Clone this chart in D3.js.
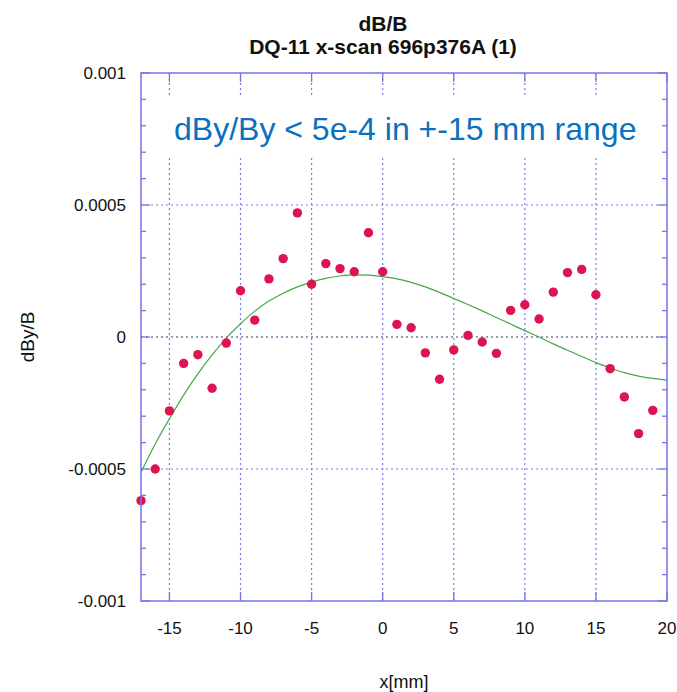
<!DOCTYPE html>
<html>
<head>
<meta charset="utf-8">
<script src="https://cdn.jsdelivr.net/npm/d3@7"></script>
<style>
  html, body { margin: 0; padding: 0; background: #ffffff; }
  svg { display: block; font-family: "Liberation Sans", Arial, sans-serif; }
</style>
</head>
<body>
<svg id="chart" width="677" height="692"></svg>
<script>
// Measured field deviation along the horizontal scan
const scanX = [-17, -16, -15, -14, -13, -12, -11, -10, -9, -8, -7, -6, -5, -4, -3, -2, -1, 0,
               1, 2, 3, 4, 5, 6, 7, 8, 9, 10, 11, 12, 13, 14, 15, 16, 17, 18, 19];
const dByB = [-0.00062, -0.0005, -0.00028, -0.0001, -0.000067, -0.000194, -0.000023, 0.000175,
              0.000064, 0.00022, 0.000297, 0.00047, 0.0002, 0.000278, 0.000259, 0.000247,
              0.000395, 0.000247, 0.000048, 0.000035, -0.00006, -0.00016, -0.000049, 0.000006,
              -0.000019, -0.000062, 0.000101, 0.000122, 0.000068, 0.00017, 0.000244, 0.000256,
              0.00016, -0.00012, -0.000227, -0.000366, -0.000278];

// Fitted trend curve, sampled along x
const fitX = [-17, -16, -15, -14, -13, -12, -11, -10, -9, -8, -7, -6, -5, -4, -3, -2, -1, 0,
              1, 2, 3, 4, 5, 6, 7, 8, 9, 10, 11, 12, 13, 14, 15, 16, 17, 18, 19, 20];
const fitY = [-0.000513, -0.000405, -0.00031, -0.00022, -0.00014, -0.000068, -0.000004, 0.00005,
              0.000098, 0.000136, 0.000166, 0.00019, 0.000208, 0.000222, 0.000231, 0.000235,
              0.000234, 0.000229, 0.00022, 0.000207, 0.00019, 0.000169, 0.000146, 0.000123,
              0.000099, 0.000074, 0.000049, 0.000024, 0.0, -0.000026, -0.00005, -0.000074,
              -0.000097, -0.000117, -0.000135, -0.000148, -0.000157, -0.000163];

const xMajorTicks = [-15, -10, -5, 0, 5, 10, 15, 20];
const xTickLabels = ["-15", "-10", "-5", "0", "5", "10", "15", "20"];
const yMajorTicks = [0.001, 0.0005, 0, -0.0005, -0.001];
const yTickLabels = ["0.001", "0.0005", "0", "-0.0005", "-0.001"];
const yMinorTicks = d3.range(-10, 11).map(k => k * 0.0001);

const titleLines = ["dB/B", "DQ-11 x-scan 696p376A (1)"];
const xTitle = "x[mm]";
const yTitle = "dBy/B";
const note = "dBy/By < 5e-4 in +-15 mm range";

const frameColor = "#7474ea";
const gridColor = "#7a7af0";
const zeroColor = "#34347a";
const dotColor = "#dc1452";
const fitColor = "#46a846";

const svg = d3.select("#chart");
const plotL = 141, plotR = 667, plotT = 73, plotB = 601;

const x = d3.scaleLinear().domain([-17, 20]).range([plotL, plotR]);
const y = d3.scaleLinear().domain([-0.001, 0.001]).range([plotB, plotT]);

// plot area background
svg.append("rect").attr("x", plotL).attr("y", plotT)
  .attr("width", plotR - plotL).attr("height", plotB - plotT).attr("fill", "#ffffff");

// dotted grid
const grid = svg.append("g").attr("stroke", gridColor).attr("stroke-width", 1.2)
  .attr("stroke-dasharray", "2,3").attr("fill", "none");
xMajorTicks.filter(v => v < 20).forEach(v => {
  grid.append("line").attr("x1", x(v)).attr("x2", x(v)).attr("y1", plotT).attr("y2", plotB);
});
yMajorTicks.filter(v => Math.abs(v) < 0.001).forEach(v => {
  grid.append("line").attr("x1", plotL).attr("x2", plotR).attr("y1", y(v)).attr("y2", y(v))
    .attr("stroke", v === 0 ? zeroColor : gridColor);
});

// annotation box hides the grid behind the note
svg.append("rect").attr("x", 153).attr("y", 97).attr("width", 507).attr("height", 60)
  .attr("fill", "#ffffff");
svg.append("text").attr("x", 174).attr("y", 140)
  .attr("font-size", 32).attr("fill", "#0a70c0").text(note);

// fitted curve
const line = d3.line().x((d, i) => x(fitX[i])).y(d => y(d)).curve(d3.curveMonotoneX);
svg.append("path").datum(fitY).attr("d", line)
  .attr("fill", "none").attr("stroke", fitColor).attr("stroke-width", 1.2);

// measured points
svg.append("g").selectAll("circle").data(dByB).join("circle")
  .attr("cx", (d, i) => x(scanX[i])).attr("cy", d => y(d))
  .attr("r", 4.7).attr("fill", dotColor);

// frame
svg.append("rect").attr("x", plotL).attr("y", plotT)
  .attr("width", plotR - plotL).attr("height", plotB - plotT)
  .attr("fill", "none").attr("stroke", frameColor).attr("stroke-width", 1.5);

// inward ticks
const ticks = svg.append("g").attr("stroke", frameColor).attr("stroke-width", 1.3);
yMinorTicks.forEach(v => {
  const major = Math.abs(Math.round(v * 10000)) % 5 === 0;
  const len = major ? 9 : 5;
  ticks.append("line").attr("x1", plotL).attr("x2", plotL + len).attr("y1", y(v)).attr("y2", y(v));
  ticks.append("line").attr("x1", plotR).attr("x2", plotR - len).attr("y1", y(v)).attr("y2", y(v));
});
xMajorTicks.forEach(v => {
  ticks.append("line").attr("x1", x(v)).attr("x2", x(v)).attr("y1", plotB).attr("y2", plotB - 9);
  ticks.append("line").attr("x1", x(v)).attr("x2", x(v)).attr("y1", plotT).attr("y2", plotT + 9);
});

// tick labels
svg.append("g").selectAll("text").data(yMajorTicks).join("text")
  .attr("x", 126).attr("y", d => y(d)).attr("dy", "0.36em")
  .attr("text-anchor", "end").attr("font-size", 17).attr("fill", "#111")
  .text((d, i) => yTickLabels[i]);
svg.append("g").selectAll("text").data(xMajorTicks).join("text")
  .attr("x", d => x(d)).attr("y", 634)
  .attr("text-anchor", "middle").attr("font-size", 17).attr("fill", "#111")
  .text((d, i) => xTickLabels[i]);

// titles
svg.append("g").selectAll("text").data(titleLines).join("text")
  .attr("x", 383).attr("y", (d, i) => 31 + i * 22.5)
  .attr("text-anchor", "middle").attr("font-size", 21).attr("font-weight", "bold")
  .attr("fill", "#111").text(d => d);
svg.append("text").attr("x", (plotL + plotR) / 2).attr("y", 688)
  .attr("text-anchor", "middle").attr("font-size", 18).attr("fill", "#111").text(xTitle);
svg.append("text").attr("transform", `translate(34,${y(0)}) rotate(-90)`)
  .attr("text-anchor", "middle").attr("font-size", 19).attr("fill", "#111").text(yTitle);
</script>
</body>
</html>
